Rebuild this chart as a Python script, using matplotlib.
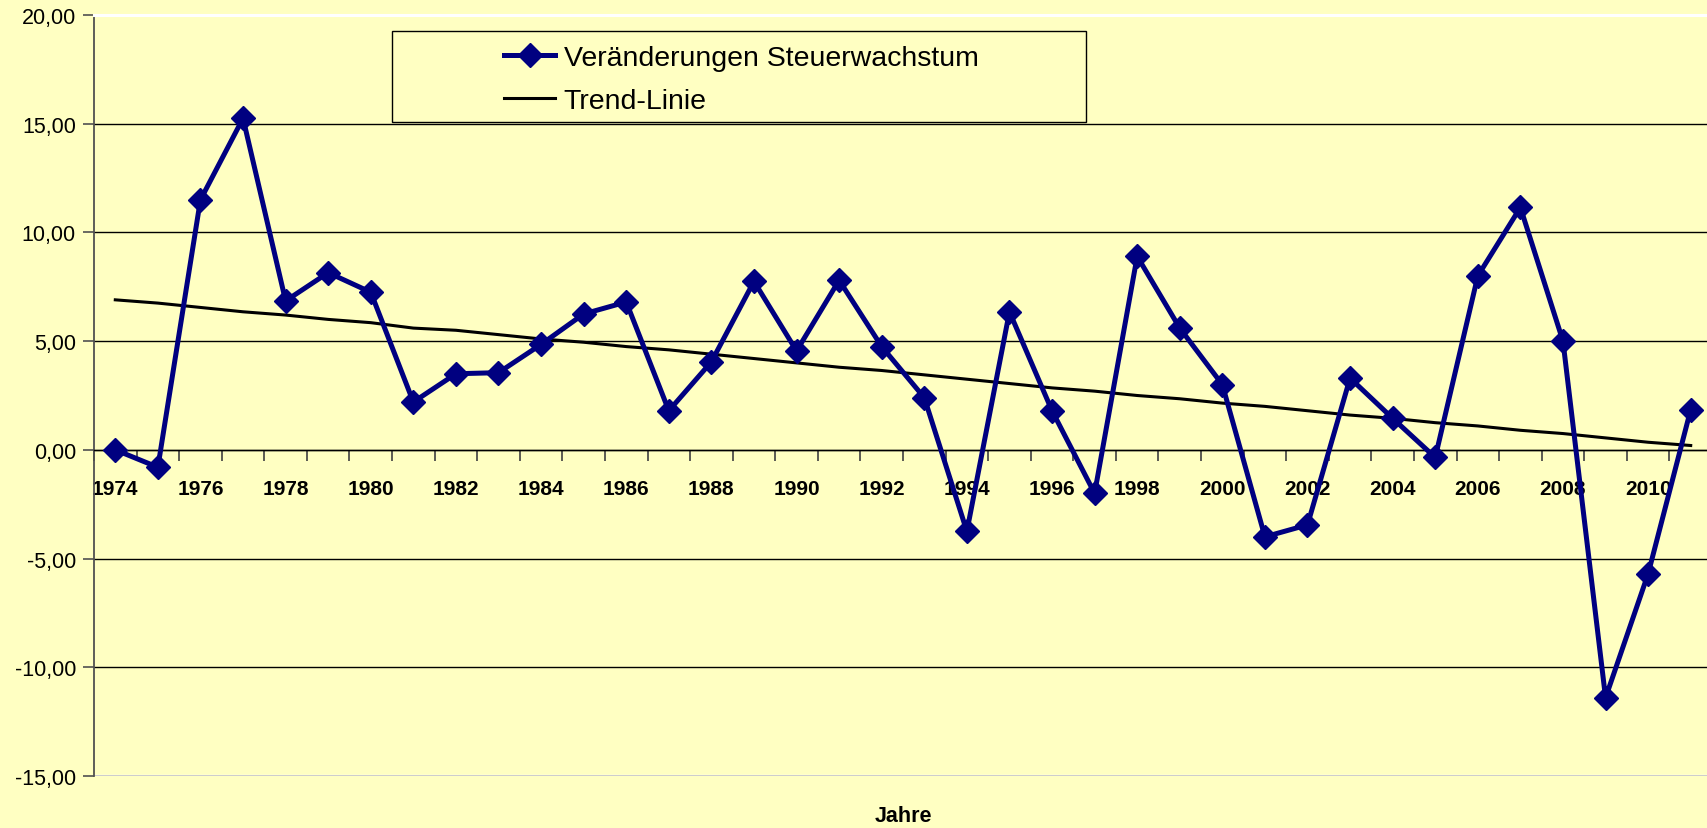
import matplotlib
matplotlib.use("Agg")
import matplotlib.pyplot as plt
from matplotlib.ticker import FixedLocator, FuncFormatter
from matplotlib.patches import Rectangle

years = list(range(1974, 2012))
growth_change = [0.0, -0.8, 11.5, 15.25, 6.85, 8.15, 7.25, 2.2, 3.5, 3.55,
                 4.85, 6.25, 6.8, 1.8, 4.05, 7.75, 4.55, 7.8, 4.75, 2.4,
                 -3.75, 6.35, 1.8, -2.0, 8.9, 5.6, 3.0, -4.0, -3.45, 3.3,
                 1.45, -0.35, 8.0, 11.15, 5.0, -11.4, -5.7, 1.85]
trend = [6.9, 6.75, 6.55, 6.35, 6.2, 6.0, 5.85, 5.6, 5.5, 5.3,
         5.1, 4.95, 4.75, 4.6, 4.4, 4.2, 4.0, 3.8, 3.65, 3.45,
         3.25, 3.05, 2.85, 2.7, 2.5, 2.35, 2.15, 2.0, 1.8, 1.6,
         1.45, 1.25, 1.1, 0.9, 0.75, 0.55, 0.35, 0.2]
y_ticks = [-15, -10, -5, 0, 5, 10, 15, 20]
series_label = "Veränderungen Steuerwachstum"
trend_label = "Trend-Linie"
x_title = "Jahre"

BG = "#FFFFC2"
NAVY = "#000080"
plt.rcParams['font.family'] = ['Liberation Sans', 'DejaVu Sans']

fig = plt.figure(figsize=(17.08, 8.29), dpi=100, facecolor=BG)
ax = fig.add_axes([94/1708, 52/829, (1712-94)/1708, (777-16)/829])
ax.set_facecolor(BG)

x = list(range(len(years)))
ax.plot(x, growth_change, color=NAVY, lw=3.6, marker='D', markersize=12,
        markerfacecolor=NAVY, markeredgecolor=NAVY, markeredgewidth=1,
        label=series_label, zorder=4, clip_on=False)
ax.plot(x, trend, color='black', lw=2.2, label=trend_label, zorder=3)

ax.set_xlim(-0.5, len(years) - 0.5)
ax.set_ylim(-15, 20)

# y axis
ax.yaxis.set_major_locator(FixedLocator(y_ticks))
ax.yaxis.set_major_formatter(FuncFormatter(lambda v, p: f"{v:.2f}".replace('.', ',')))
ax.tick_params(axis='y', direction='out', length=8, width=1.2, color='#505050',
               labelsize=15.5, pad=5, labelcolor='black')
ax.yaxis.grid(True, color='black', lw=1.0)
ax.set_axisbelow('line')

# x axis at zero
ax.spines['bottom'].set_position(('data', 0))
ax.spines['bottom'].set_color('black')
ax.spines['bottom'].set_linewidth(1.0)
ax.spines['left'].set_color('#505050')
ax.spines['left'].set_linewidth(1.3)
ax.spines['right'].set_visible(False)
ax.spines['top'].set_color('white')
ax.spines['top'].set_linewidth(2.2)
ax.axhline(-15, color='white', lw=2.4, zorder=1)

ax.xaxis.set_major_locator(FixedLocator(x[::2]))
ax.set_xticklabels([str(y) for y in years[::2]], fontweight='bold', fontsize=15)
ax.xaxis.set_minor_locator(FixedLocator([i - 0.5 for i in range(len(years) + 1)]))
ax.tick_params(axis='x', which='major', length=0, pad=21)
ax.tick_params(axis='x', which='minor', direction='out', length=8, width=1.2, color='#404040')

fig.text(903/1708, 1 - 817/829, x_title, ha='center', va='center',
         fontsize=15.5, fontweight='bold')

# legend box
fig.patches.append(Rectangle((392/1708, 1 - 123/829), (1086-392)/1708, 91/829,
                             transform=fig.transFigure, facecolor=BG,
                             edgecolor='black', lw=1.0, zorder=5))
leg = fig.legend(loc='center left', bbox_to_anchor=(504/1708, 1 - 80.5/829),
                 frameon=False, fontsize=20.5, handlelength=1.8,
                 handletextpad=0.3, labelspacing=0.58, borderpad=0, borderaxespad=0)
leg.set_zorder(6)

fig.savefig("out.png", dpi=100, facecolor=BG)
